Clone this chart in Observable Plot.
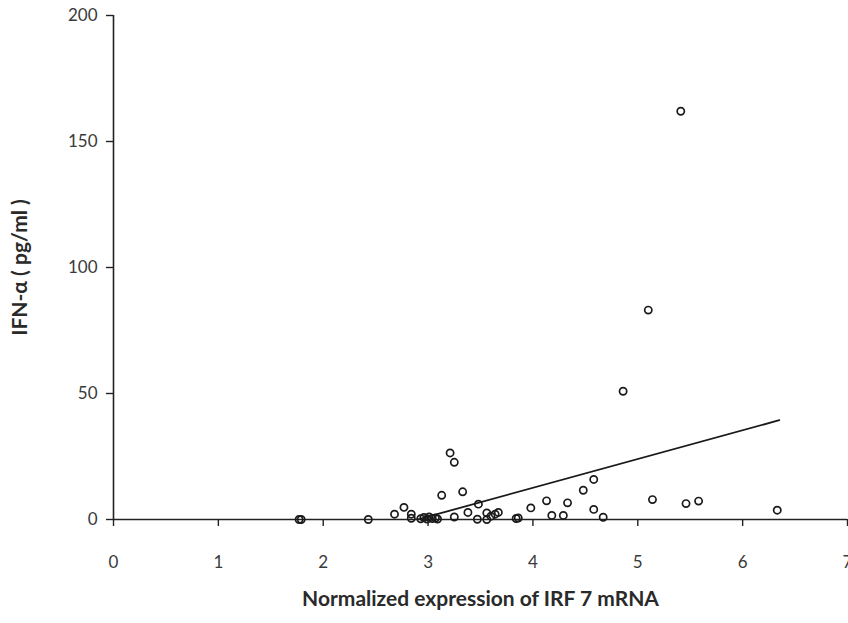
<!DOCTYPE html>
<html>
<head>
<meta charset="utf-8">
<script src="https://cdn.jsdelivr.net/npm/d3@7"></script>
<script src="https://cdn.jsdelivr.net/npm/@observablehq/plot@0.6"></script>
<style>
  html, body { margin: 0; padding: 0; background: white; }
  #chart svg [aria-label="x-axis label"] text,
  #chart svg [aria-label="y-axis label"] text { font-weight: bold; font-size: 21px; fill: #2a2a2a; }
</style>
</head>
<body>
<div id="chart"></div>
<script>
// Normalized expression of IRF 7 mRNA (x) vs IFN-α pg/ml (y)
const irf7 = [1.77, 1.79, 2.43, 2.68, 2.77, 2.84, 2.84, 2.93, 2.96, 2.99, 3.01, 3.04, 3.07, 3.09,
  3.13, 3.21, 3.25, 3.33, 3.25, 3.38, 3.48, 3.47, 3.56, 3.56, 3.60, 3.64, 3.67,
  3.84, 3.86, 3.98, 4.13, 4.18, 4.29, 4.33, 4.48, 4.58, 4.58, 4.67,
  4.86, 5.10, 5.14, 5.41, 5.46, 5.58, 6.33];
const ifnA = [0, 0, 0, 2.1, 4.8, 2.1, 0.5, 0.3, 0.8, 0.2, 1.0, 0.4, 0.6, 0.2,
  9.6, 26.4, 22.7, 11.0, 1.0, 2.8, 6.1, 0.1, 2.6, 0, 1.3, 2.1, 2.8,
  0.4, 0.6, 4.6, 7.4, 1.6, 1.6, 6.6, 11.6, 15.9, 4.0, 0.9,
  50.9, 83.1, 7.9, 162, 6.3, 7.3, 3.7];
// linear trend line endpoints
const trendX = [1.77, 6.35];
const trendY = [-12.9, 39.4];
const xTicks = [0, 1, 2, 3, 4, 5, 6, 7];
const yTicks = [0, 50, 100, 150, 200];
const xTitle = "Normalized expression of IRF 7 mRNA";
const yTitle = "IFN-α ( pg/ml )";

const points = irf7.map((x, i) => ({x, y: ifnA[i]}));
const trend = trendX.map((x, i) => ({x, y: trendY[i]}));

const chart = Plot.plot({
  width: 848,
  height: 623,
  marginLeft: 113,
  marginRight: 1,
  marginTop: 15,
  marginBottom: 104,
  x: {domain: [0, 7]},
  y: {domain: [0, 200]},
  style: {fontFamily: "Lato, 'Open Sans', sans-serif", fontSize: "17px", color: "#3a3a3a", background: "white"},
  marks: [
    Plot.axisY({ticks: yTicks, tickFormat: d => String(d), tickSize: 7, tickPadding: 9, stroke: "#222", strokeWidth: 1.4,
      label: yTitle, labelAnchor: "center", labelArrow: "none", labelOffset: 101, fontSize: 17}),
    Plot.axisX({ticks: xTicks, tickFormat: d => String(d), tickSize: 7, tickPadding: 29, stroke: "#222", strokeWidth: 1.4,
      label: xTitle, labelAnchor: "center", labelArrow: "none", labelOffset: 86, fontSize: 17}),
    Plot.ruleX([0], {stroke: "#222", strokeWidth: 1.6}),
    Plot.ruleY([0], {stroke: "#222", strokeWidth: 1.6}),
    Plot.line(trend, {x: "x", y: "y", clip: true, stroke: "#1a1a1a", strokeWidth: 1.8}),
    Plot.dot(points, {x: "x", y: "y", r: 3.6, stroke: "#1a1a1a", strokeWidth: 1.7, fill: "none"})
  ]
});
document.getElementById("chart").append(chart);
</script>
</body>
</html>
